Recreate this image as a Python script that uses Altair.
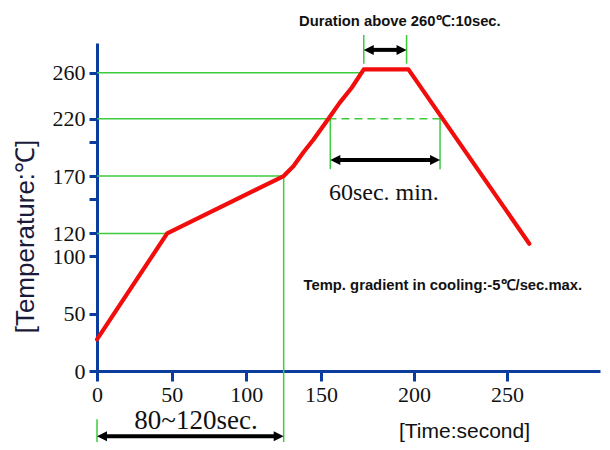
import altair as alt
import pandas as pd

# ---------------- data ----------------
# red reflow profile
profile_time = [0, 47, 125, 131.5, 138, 145, 154, 160, 166.5, 173, 197, 262]
profile_temp = [27.5, 120, 170, 178.6, 190.3, 201.8, 220, 233.8, 247, 263, 263, 111]

# axis ticks
x_ticks = [0, 50, 100, 150, 200, 250]
y_ticks = [0, 50, 100, 120, 150, 170, 200, 220, 260]

# green horizontal guides
hguide_temp = [260, 220, 170, 120]
hguide_t0 = [0, 0, 0, 0]
hguide_t1 = [173, 154, 125, 47]

# green dashed guide
dguide_temp = [220]
dguide_t0 = [154]
dguide_t1 = [214]

# green vertical guides
vguide_time = [125, 0, 155, 214, 173, 196]
vguide_temp0 = [170, -42, 220, 220, 268, 268]
vguide_temp1 = [-62, -62, 176, 176, 293, 293]

# double arrows
arrow_t0 = [173, 155, 0]
arrow_t1 = [196, 214, 125]
arrow_temp = [280, 184, -57]

# annotation texts
sans_labels = ["Duration above 260\u2103:10sec.", "Temp. gradient in cooling:-5\u2103/sec.max."]
sans_time = [192.4, 215.5]
sans_temp = [301, 70.2]

serif_labels = ["60sec. min.", "80~120sec."]
serif_time = [183.8, 66.3]
serif_temp = [149.5, -51]
serif_size = [24, 27]

# ---------------- styles ----------------
BLUE = "#0b3d9e"
RED = "#f20d0d"
GREEN = "#3ccc3c"

xs = alt.Scale(domain=[0, 150, 300], range=[0, 224, 503], nice=False, zero=False)
ys = alt.Scale(domain=[0, 286], nice=False, zero=False)

xaxis = alt.Axis(
    values=x_ticks, title="[Time:second]", grid=False,
    domainColor=BLUE, domainWidth=3, tickColor=BLUE, tickWidth=3, tickSize=10,
    labelFont="Liberation Serif", labelFontSize=22, labelColor="#111111",
    labelPadding=3, labelFlush=False, labelOverlap=False,
    titleFont="Liberation Sans", titleFontSize=21, titleFontWeight="normal",
    titleColor="#111111", titleX=367, titleY=66, titleBaseline="alphabetic",
    titleAlign="center",
)
yaxis = alt.Axis(
    values=y_ticks, title="[Temperature:\u2103]", grid=False,
    labelExpr="datum.value == 150 || datum.value == 200 ? '' : datum.label",
    domainColor=BLUE, domainWidth=3, tickColor=BLUE, tickWidth=3, tickSize=8,
    labelFont="Liberation Serif", labelFontSize=22, labelColor="#111111",
    labelPadding=4, labelFlush=False, labelOverlap=False,
    titleFont="Liberation Sans", titleFontSize=26, titleFontWeight="normal",
    titleColor="#1a1a3a", titleX=-72, titleY=193, titleBaseline="middle",
    titleAlign="center", titleAngle=270,
)


def X(f):
    return alt.X(f, scale=xs, axis=xaxis)


def Y(f):
    return alt.Y(f, scale=ys, axis=yaxis)


profile_df = pd.DataFrame({"t": profile_time, "T": profile_temp, "o": range(len(profile_time))})
h_df = pd.DataFrame({"T": hguide_temp, "t0": hguide_t0, "t1": hguide_t1})
d_df = pd.DataFrame({"T": dguide_temp, "t0": dguide_t0, "t1": dguide_t1})
v_df = pd.DataFrame({"t": vguide_time, "T0": vguide_temp0, "T1": vguide_temp1})
a_df = pd.DataFrame({"t0": arrow_t0, "t1": arrow_t1, "T": arrow_temp})
sans_df = pd.DataFrame({"t": sans_time, "T": sans_temp, "label": sans_labels})
serif_df = pd.DataFrame({"t": serif_time, "T": serif_temp, "label": serif_labels, "s": serif_size})

hlines = alt.Chart(h_df).mark_rule(color=GREEN, strokeWidth=1.5).encode(
    x=X("t0:Q"), x2="t1:Q", y=Y("T:Q"))
dlines = alt.Chart(d_df).mark_rule(color=GREEN, strokeWidth=1.5, strokeDash=[8, 5]).encode(
    x=X("t0:Q"), x2="t1:Q", y=Y("T:Q"))
vlines = alt.Chart(v_df).mark_rule(color=GREEN, strokeWidth=1.5).encode(
    x=X("t:Q"), y=Y("T0:Q"), y2="T1:Q")

curve = alt.Chart(profile_df).mark_line(
    color=RED, strokeWidth=4.2, strokeJoin="round", strokeCap="round"
).encode(x=X("t:Q"), y=Y("T:Q"), order="o:Q")

arrows = alt.Chart(a_df).mark_rule(color="black", strokeWidth=4, xOffset=6, x2Offset=-6).encode(
    x=X("t0:Q"), x2="t1:Q", y=Y("T:Q"))
heads_l = alt.Chart(a_df).mark_point(
    shape="M0,0L2,-1L2,1Z", filled=True, size=100, color="black", opacity=1, strokeWidth=0
).encode(x=X("t0:Q"), y=Y("T:Q"))
heads_r = alt.Chart(a_df).mark_point(
    shape="M0,0L-2,-1L-2,1Z", filled=True, size=100, color="black", opacity=1, strokeWidth=0
).encode(x=X("t1:Q"), y=Y("T:Q"))

sans_text = alt.Chart(sans_df).mark_text(
    font="Liberation Sans", fontSize=14.8, fontWeight="bold", color="#111111",
    align="center", baseline="alphabetic"
).encode(x=X("t:Q"), y=Y("T:Q"), text="label:N")

serif_text = alt.Chart(serif_df).mark_text(
    font="Liberation Serif", color="#111111", align="center", baseline="alphabetic"
).encode(x=X("t:Q"), y=Y("T:Q"), text="label:N",
         size=alt.Size("s:Q", scale=None, legend=None))

chart = alt.layer(
    hlines, dlines, vlines, curve, arrows, heads_l, heads_r, sans_text, serif_text
).properties(
    width=503, height=328, autosize="none",
    padding={"left": 89, "top": 35, "right": 2, "bottom": 71},
    background="white",
).configure_view(strokeWidth=0)

chart.save("out.html", embed_options={"renderer": "svg", "actions": False})
